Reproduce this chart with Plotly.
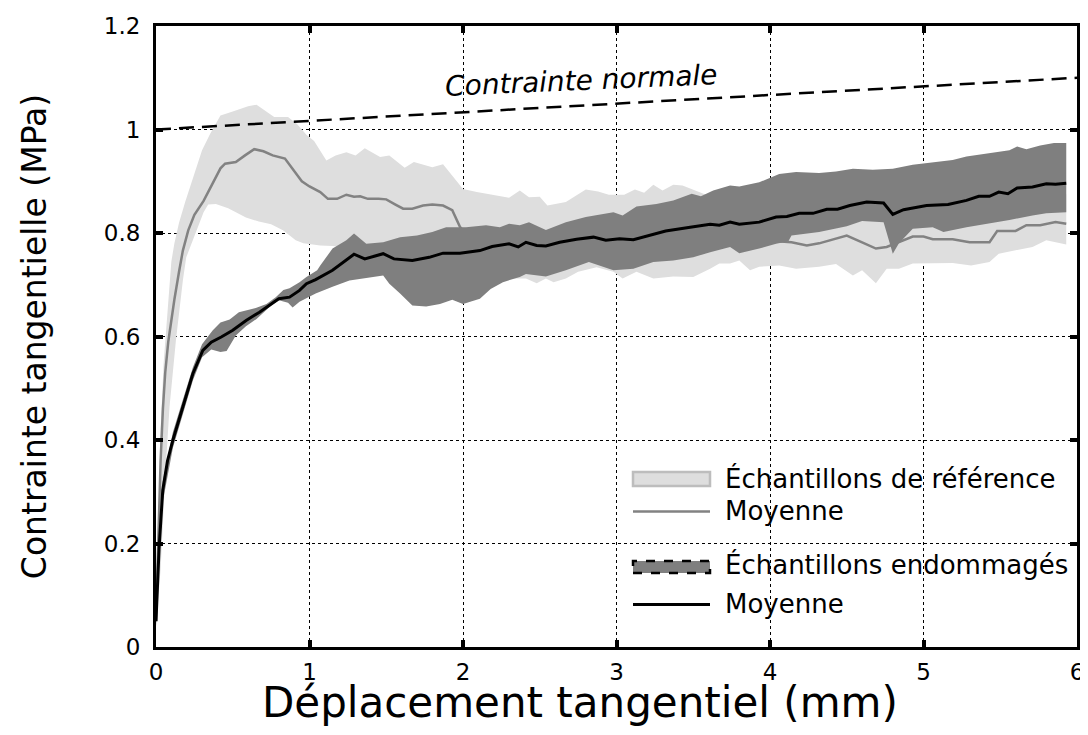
import plotly.graph_objects as go

# ---------------- data ----------------
ref_mean_x = [0.0, 0.015, 0.03, 0.045, 0.06, 0.08, 0.10, 0.12, 0.15, 0.175, 0.21, 0.25, 0.31, 0.37, 0.42, 0.45,
              0.52, 0.58, 0.64, 0.70, 0.76, 0.84, 0.90, 0.95, 1.00, 1.07, 1.12, 1.18, 1.24, 1.29, 1.33, 1.38,
              1.45, 1.50, 1.56, 1.61, 1.67, 1.74, 1.80, 1.87, 1.93, 1.98, 2.03, 2.3, 2.6, 3.0, 3.4, 3.8, 4.0,
              4.14, 4.24, 4.32, 4.39, 4.50, 4.60, 4.69, 4.76, 4.84, 4.93, 5.00, 5.06, 5.19, 5.30, 5.43, 5.48,
              5.60, 5.67, 5.76, 5.86, 5.93]
ref_mean_y = [0.05, 0.22, 0.36, 0.46, 0.53, 0.59, 0.635, 0.672, 0.725, 0.766, 0.805, 0.835, 0.862, 0.895, 0.925, 0.934,
              0.937, 0.950, 0.962, 0.958, 0.950, 0.944, 0.920, 0.900, 0.890, 0.879, 0.866, 0.866, 0.874, 0.870, 0.871, 0.866,
              0.866, 0.865, 0.855, 0.847, 0.847, 0.853, 0.855, 0.853, 0.844, 0.812, 0.795, 0.79, 0.785, 0.79, 0.79, 0.785, 0.785,
              0.782, 0.776, 0.780, 0.786, 0.795, 0.782, 0.770, 0.773, 0.782, 0.793, 0.793, 0.788, 0.788, 0.782, 0.782, 0.804,
              0.804, 0.815, 0.815, 0.821, 0.818]

ref_up_x = [0.0, 0.01, 0.03, 0.05, 0.074, 0.10, 0.12, 0.15, 0.19, 0.26, 0.30, 0.353, 0.42, 0.50, 0.60, 0.655, 0.72,
            0.77, 0.86, 0.92, 0.98, 1.03, 1.11, 1.17, 1.24, 1.30, 1.36, 1.46, 1.52, 1.62, 1.68, 1.80, 1.87, 1.96,
            2.00, 2.09, 2.24, 2.30, 2.37, 2.43, 2.50, 2.55, 2.67, 2.80, 2.88, 2.95, 3.05, 3.12, 3.18, 3.24, 3.30,
            3.37, 3.43, 3.52, 3.60, 3.8, 4.0, 4.5, 5.0, 5.5, 5.93]
ref_up_y = [0.06, 0.2, 0.42, 0.55, 0.65, 0.745, 0.78, 0.82, 0.86, 0.924, 0.96, 0.992, 1.027, 1.035, 1.045, 1.048, 1.035,
            1.024, 1.024, 1.01, 0.99, 0.978, 0.94, 0.95, 0.956, 0.95, 0.964, 0.947, 0.95, 0.926, 0.937, 0.927, 0.933, 0.90,
            0.885, 0.879, 0.872, 0.868, 0.882, 0.869, 0.87, 0.853, 0.86, 0.884, 0.88, 0.874, 0.874, 0.884, 0.878, 0.893, 0.882,
            0.893, 0.892, 0.882, 0.872, 0.87, 0.875, 0.86, 0.86, 0.865, 0.875]

ref_lo_x = [0.0, 0.03, 0.06, 0.088, 0.13, 0.175, 0.197, 0.26, 0.31, 0.34, 0.39, 0.47, 0.586, 0.67, 0.75, 0.83, 0.91,
            0.96, 1.0, 1.07, 1.15, 1.3, 1.6, 2.0, 2.2, 2.3, 2.41, 2.48, 2.54, 2.59, 2.67, 2.75, 2.87, 2.98, 3.04, 3.13,
            3.24, 3.37, 3.50, 3.61, 3.67, 3.74, 3.80, 3.87, 3.93, 4.06, 4.17, 4.32, 4.43, 4.54, 4.60, 4.69, 4.76, 4.84,
            4.93, 5.06, 5.19, 5.31, 5.43, 5.49, 5.60, 5.71, 5.80, 5.86, 5.93]
ref_lo_y = [0.04, 0.15, 0.33, 0.464, 0.593, 0.708, 0.753, 0.80, 0.84, 0.855, 0.856, 0.848, 0.83, 0.822, 0.817, 0.805, 0.786,
            0.78, 0.779, 0.776, 0.775, 0.77, 0.74, 0.725, 0.715, 0.712, 0.712, 0.703, 0.712, 0.705, 0.712, 0.725, 0.734, 0.725,
            0.712, 0.725, 0.712, 0.716, 0.715, 0.731, 0.741, 0.741, 0.747, 0.728, 0.735, 0.737, 0.731, 0.735, 0.74, 0.718,
            0.728, 0.703, 0.731, 0.731, 0.741, 0.742, 0.742, 0.737, 0.744, 0.76, 0.766, 0.773, 0.786, 0.782, 0.778]

dam_up_x = [0.0, 0.02, 0.044, 0.11, 0.175, 0.24, 0.30, 0.37, 0.42, 0.48, 0.54, 0.586, 0.65, 0.72, 0.78, 0.83, 0.87,
            0.935, 0.98, 1.05, 1.07, 1.15, 1.24, 1.29, 1.37, 1.48, 1.59, 1.70, 1.80, 1.89, 2.02, 2.15, 2.24, 2.30, 2.37,
            2.43, 2.54, 2.67, 2.80, 2.98, 3.04, 3.13, 3.26, 3.37, 3.49, 3.55, 3.63, 3.74, 3.80, 3.93, 4.06, 4.17, 4.32,
            4.43, 4.54, 4.67, 4.80, 4.93, 5.06, 5.19, 5.28, 5.43, 5.56, 5.61, 5.67, 5.76, 5.85, 5.93]
dam_up_y = [0.07, 0.22, 0.32, 0.415, 0.478, 0.54, 0.585, 0.612, 0.627, 0.633, 0.647, 0.65, 0.655, 0.663, 0.676, 0.69, 0.693,
            0.705, 0.715, 0.728, 0.737, 0.77, 0.786, 0.799, 0.779, 0.782, 0.792, 0.795, 0.802, 0.811, 0.811, 0.815, 0.811, 0.818,
            0.815, 0.821, 0.806, 0.821, 0.831, 0.840, 0.834, 0.851, 0.856, 0.863, 0.876, 0.871, 0.882, 0.892, 0.890, 0.898,
            0.914, 0.918, 0.916, 0.919, 0.924, 0.922, 0.924, 0.932, 0.936, 0.941, 0.948, 0.954, 0.960, 0.967, 0.962, 0.969,
            0.974, 0.974]

dam_lo_x = [0.0, 0.02, 0.044, 0.11, 0.175, 0.24, 0.30, 0.36, 0.42, 0.46, 0.52, 0.586, 0.655, 0.75, 0.80, 0.86, 0.89,
            0.935, 1.04, 1.15, 1.26, 1.37, 1.48, 1.52, 1.59, 1.67, 1.76, 1.85, 1.93, 2.00, 2.11, 2.18, 2.26, 2.37, 2.41,
            2.54, 2.67, 2.82, 2.98, 3.11, 3.24, 3.37, 3.50, 3.61, 3.74, 3.80, 3.93, 4.04, 4.12, 4.14, 4.17, 4.32, 4.50,
            4.60, 4.74, 4.80, 4.84, 4.89, 4.93, 5.06, 5.13, 5.28, 5.41, 5.56, 5.71, 5.80, 5.93]
dam_lo_y = [0.04, 0.17, 0.28, 0.385, 0.45, 0.515, 0.56, 0.575, 0.57, 0.572, 0.602, 0.62, 0.634, 0.66, 0.67, 0.665, 0.656,
            0.667, 0.683, 0.696, 0.708, 0.713, 0.718, 0.702, 0.683, 0.660, 0.658, 0.663, 0.671, 0.663, 0.673, 0.692, 0.705,
            0.715, 0.721, 0.716, 0.728, 0.744, 0.728, 0.731, 0.744, 0.747, 0.753, 0.763, 0.773, 0.761, 0.770, 0.779, 0.784,
            0.795, 0.795, 0.802, 0.813, 0.823, 0.821, 0.76, 0.78, 0.795, 0.808, 0.811, 0.802, 0.811, 0.818, 0.825, 0.834,
            0.838, 0.840]

dam_mean_x = [0.0, 0.02, 0.044, 0.075, 0.11, 0.175, 0.24, 0.305, 0.36, 0.425, 0.50, 0.587, 0.674, 0.80, 0.87, 0.935,
              0.98, 1.04, 1.15, 1.29, 1.36, 1.48, 1.55, 1.67, 1.78, 1.87, 1.98, 2.11, 2.19, 2.30, 2.36, 2.41, 2.48, 2.54,
              2.63, 2.74, 2.85, 2.93, 3.02, 3.11, 3.21, 3.32, 3.48, 3.61, 3.67, 3.74, 3.80, 3.93, 4.04, 4.11, 4.19, 4.28,
              4.37, 4.44, 4.52, 4.63, 4.74, 4.80, 4.87, 4.98, 5.02, 5.16, 5.28, 5.36, 5.43, 5.49, 5.55, 5.61, 5.71, 5.80,
              5.86, 5.93]
dam_mean_y = [0.05, 0.19, 0.303, 0.36, 0.40, 0.464, 0.528, 0.573, 0.589, 0.599, 0.612, 0.631, 0.647, 0.673, 0.676, 0.689,
              0.702, 0.710, 0.728, 0.759, 0.750, 0.760, 0.750, 0.747, 0.753, 0.761, 0.761, 0.766, 0.774, 0.779, 0.773, 0.782,
              0.776, 0.775, 0.782, 0.788, 0.792, 0.786, 0.789, 0.787, 0.795, 0.804, 0.811, 0.817, 0.815, 0.821, 0.817, 0.821,
              0.831, 0.832, 0.838, 0.838, 0.846, 0.846, 0.853, 0.860, 0.858, 0.836, 0.845, 0.850, 0.853, 0.855, 0.863, 0.871,
              0.871, 0.879, 0.876, 0.887, 0.889, 0.895, 0.894, 0.896]

normal_x = [0.0, 6.0]
normal_y = [1.0, 1.1]

x_ticks = [0, 1, 2, 3, 4, 5, 6]
y_ticks = [0, 0.2, 0.4, 0.6, 0.8, 1.0, 1.2]
y_tick_text = ["0", "0.2", "0.4", "0.6", "0.8", "1", "1.2"]

legend_labels = ["Échantillons de référence", "Moyenne", "Échantillons endommagés", "Moyenne"]
x_title = "Déplacement tangentiel (mm)"
y_title = "Contrainte tangentielle (MPa)"
normal_label = "Contrainte normale"

LIGHT = "#dedede"
MID = "#828282"
DARK = "#7f7f7f"
FONT = "DejaVu Sans"

# page offset (body margin) compensation
OFF = 8
FIG_W, FIG_H = 1080, 719
PL, PR, PT, PB = 156 - OFF, 1077 - OFF, 26 - OFF, 647 - OFF  # plot area in figure pixels

fig = go.Figure()
fig.add_trace(go.Scatter(x=ref_up_x + ref_lo_x[::-1], y=ref_up_y + ref_lo_y[::-1], fill="toself",
                         fillcolor=LIGHT, line=dict(width=0, color=LIGHT), mode="lines", hoverinfo="skip"))
fig.add_trace(go.Scatter(x=ref_mean_x, y=ref_mean_y, mode="lines", line=dict(color=MID, width=2.5)))
fig.add_trace(go.Scatter(x=dam_up_x + dam_lo_x[::-1], y=dam_up_y + dam_lo_y[::-1], fill="toself",
                         fillcolor=DARK, line=dict(width=0, color=DARK), mode="lines", hoverinfo="skip"))
fig.add_trace(go.Scatter(x=dam_mean_x, y=dam_mean_y, mode="lines", line=dict(color="black", width=3)))
fig.add_trace(go.Scatter(x=normal_x, y=normal_y, mode="lines", line=dict(color="black", width=2.5, dash="15px,8px")))

fig.add_annotation(x=2.77, y=1.095, xref="x", yref="y", text=normal_label, showarrow=False, textangle=-2.5,
                   font=dict(family=FONT, size=28, color="black", style="italic"))

# ---- manual legend (paper coordinates, from screen pixels) ----
W, H = float(PR - PL), float(PB - PT)
def px(xs):
    return (xs - OFF - PL) / W
def py(ys):
    return (PB - (ys - OFF)) / H

shapes = [
    dict(type="rect", xref="paper", yref="paper", x0=px(615), x1=px(1073), y0=py(630), y1=py(452),
         fillcolor="white", line=dict(width=0), layer="between"),
    dict(type="rect", xref="paper", yref="paper", x0=px(633), x1=px(710), y0=py(486), y1=py(472),
         fillcolor=LIGHT, line=dict(color="#bdbdbd", width=2.5), layer="above"),
    dict(type="line", xref="paper", yref="paper", x0=px(633), x1=px(710), y0=py(511.5), y1=py(511.5),
         line=dict(color=MID, width=2.5), layer="above"),
    dict(type="rect", xref="paper", yref="paper", x0=px(633), x1=px(710), y0=py(573), y1=py(561),
         fillcolor=DARK, line=dict(color="black", width=2.5, dash="dash"), layer="above"),
    dict(type="line", xref="paper", yref="paper", x0=px(633), x1=px(710), y0=py(604.5), y1=py(604.5),
         line=dict(color="black", width=3), layer="above"),
]
for s in shapes:
    fig.add_shape(**s)

for lbl, yc in zip(legend_labels, [478, 511, 564, 604]):
    fig.add_annotation(x=px(723), y=py(yc), xref="paper", yref="paper", text=lbl, showarrow=False,
                       xanchor="left", yanchor="middle", font=dict(family=FONT, size=26, color="black"))

# x-axis title placed as an annotation for precise vertical position
fig.add_annotation(x=px(580), y=py(702), xref="paper", yref="paper", text=x_title, showarrow=False,
                   xanchor="center", yanchor="middle", font=dict(family=FONT, size=42, color="black"))

axis_common = dict(showline=True, linecolor="black", linewidth=3, mirror="ticks", ticks="inside", ticklen=7,
                   tickwidth=4, tickcolor="black", showgrid=True, gridcolor="black", gridwidth=1, griddash="dot",
                   zeroline=False, tickfont=dict(family=FONT, size=23, color="black"))

fig.update_xaxes(range=[0, 6], tickvals=x_ticks, ticklabelstandoff=2, **axis_common)
fig.update_yaxes(range=[0, 1.2], tickvals=y_ticks, ticktext=y_tick_text,
                 title=dict(text=y_title, font=dict(family=FONT, size=33, color="black"), standoff=48),
                 ticklabelstandoff=8, **axis_common)

fig.update_layout(width=FIG_W, height=FIG_H, margin=dict(l=PL, r=FIG_W - PR, t=PT, b=FIG_H - PB, autoexpand=False),
                  paper_bgcolor="white", plot_bgcolor="white", showlegend=False)

fig.write_html("out.html")
